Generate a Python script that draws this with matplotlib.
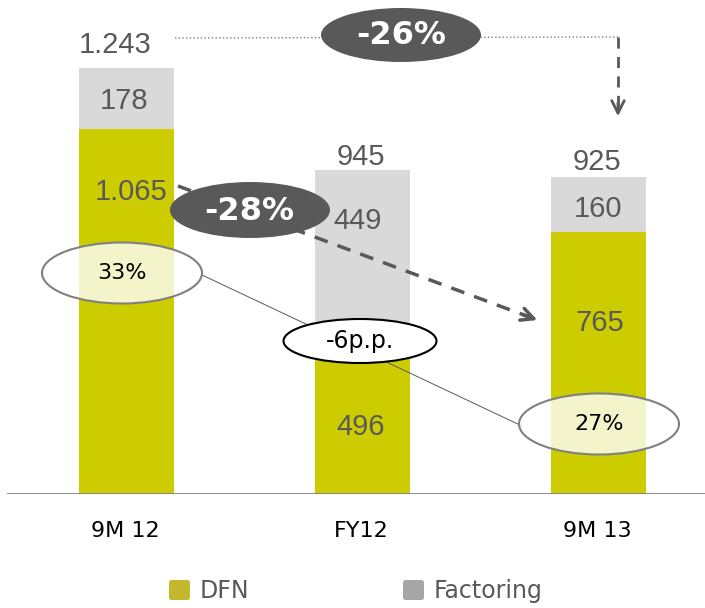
import matplotlib
matplotlib.use("Agg")
from matplotlib import pyplot as plt
from matplotlib.patches import Ellipse, FancyBboxPatch

NUM_FONT = ['Liberation Sans', 'DejaVu Sans']
WIDE = ['DejaVu Sans']
plt.rcParams['font.family'] = NUM_FONT

periods = ['9M 12', 'FY12', '9M 13']
dfn = [1065, 496, 765]
factoring = [178, 449, 160]
totals = ['1.243', '945', '925']
dfn_labels = ['1.065', '496', '765']
factoring_labels = ['178', '449', '160']
shares = ['33%', None, '27%']

DFN_COLOR = '#CCCC00'
FACT_COLOR = '#D9D9D9'
TEXT = '#595959'

fig = plt.figure(figsize=(7.05, 6.08), dpi=100)
ax = fig.add_axes([0, 114 / 608, 1, 494 / 608])

SX = 236.0     # px per category
SY = 0.343     # px per unit
ax.set_xlim(-126 / SX, (705 - 126) / SX)
ax.set_ylim(0, 494 / SY)
ax.axis('off')


def P(xp, yp):
    # pixel position in the 705x608 image -> data coords
    return (xp - 126) / SX, (494 - yp) / SY


x = list(range(len(periods)))
ax.bar(x, dfn, width=95 / SX, color=DFN_COLOR, zorder=2)
ax.bar(x, factoring, bottom=dfn, width=95 / SX, color=FACT_COLOR, zorder=2)
ax.axhline(0, xmin=8 / 705, xmax=1, color='#808080', lw=2, zorder=3)

# value labels
tot_px = [(115, 45), (361, 157), (597, 162)]
fac_px = [(124, 101), (358, 221), (598, 209)]
dfn_px = [(131, 192), (361, 427), (600, 323)]
for i in x:
    for lab, pos in ((totals[i], tot_px[i]), (factoring_labels[i], fac_px[i]),
                     (dfn_labels[i], dfn_px[i])):
        ax.text(*P(*pos), lab, ha='center', va='center', fontsize=21,
                color=TEXT, zorder=4)
    ax.text(*P(125 + 236 * i, 531), periods[i], ha='center', va='center',
            fontsize=16, color='black', family=WIDE)

head = dict(arrowstyle='->,head_length=0.9,head_width=0.45', color=TEXT)

# -26% : dotted line over the top, dashed arrow down to 9M 13
ax.plot(*zip(P(175, 38), P(618, 37)), color='#7F7F7F', lw=1, ls=':', zorder=3)
ax.plot(*zip(P(618, 37), P(618, 110)), color=TEXT, lw=2, ls=(0, (4, 3)),
        zorder=3)
ax.annotate('', xy=P(618, 119), xytext=P(618, 100),
            arrowprops=dict(head, lw=2), zorder=3)
ax.add_patch(Ellipse(P(401, 35), 160 / SX, 54 / SY, facecolor=TEXT,
                     edgecolor='none', zorder=5))
ax.text(*P(401, 36), '-26%', ha='center', va='center', fontsize=23,
        fontweight='bold', color='white', family=WIDE, zorder=6)

# -28% : dashed arrow from DFN 9M 12 to DFN 9M 13
ax.plot(*zip(P(178, 186), P(532, 318)), color=TEXT, lw=2.5, ls=(0, (4, 3)),
        zorder=3)
ax.annotate('', xy=P(540, 321), xytext=P(520, 313.5),
            arrowprops=dict(head, lw=2.5), zorder=3)
ax.add_patch(Ellipse(P(250, 210), 160 / SX, 56 / SY, facecolor=TEXT,
                     edgecolor='none', zorder=5))
ax.text(*P(249, 211), '-28%', ha='center', va='center', fontsize=23,
        fontweight='bold', color='white', family=WIDE, zorder=6)

# DFN share bubbles and the -6p.p. link
ax.plot(*zip(P(202, 275), P(522, 426)), color='#595959', lw=0.7, zorder=3)
share_px = [(122, 273), None, (599, 424)]
for i, s in enumerate(shares):
    if s is None:
        continue
    ax.add_patch(Ellipse(P(*share_px[i]), 160 / SX, 61 / SY,
                         facecolor=(1, 1, 1, 0.8), edgecolor='#808080',
                         lw=1.5, zorder=5))
    ax.text(*P(*share_px[i]), s, ha='center', va='center', fontsize=16,
            color='black', family=WIDE, zorder=6)
ax.add_patch(Ellipse(P(360, 341), 153 / SX, 44 / SY, facecolor='white',
                     edgecolor='black', lw=1.5, zorder=5))
ax.text(*P(360, 341), '-6p.p.', ha='center', va='center', fontsize=17,
        color='black', family=WIDE, zorder=6)

# legend
legend_items = [('DFN', '#C4B92E', 169), ('Factoring', '#A6A6A6', 403)]
for label, color, xp in legend_items:
    fig.patches.append(FancyBboxPatch(
        (xp / 705, 1 - 600 / 608), 21 / 705, 20 / 608,
        boxstyle='round,pad=0,rounding_size=0.004', transform=fig.transFigure,
        facecolor=color, edgecolor='none'))
    fig.text((xp + 31) / 705, 1 - 591 / 608, label, ha='left', va='center',
             fontsize=17, color=TEXT, family=WIDE)

plt.savefig('out.png', dpi=100)
